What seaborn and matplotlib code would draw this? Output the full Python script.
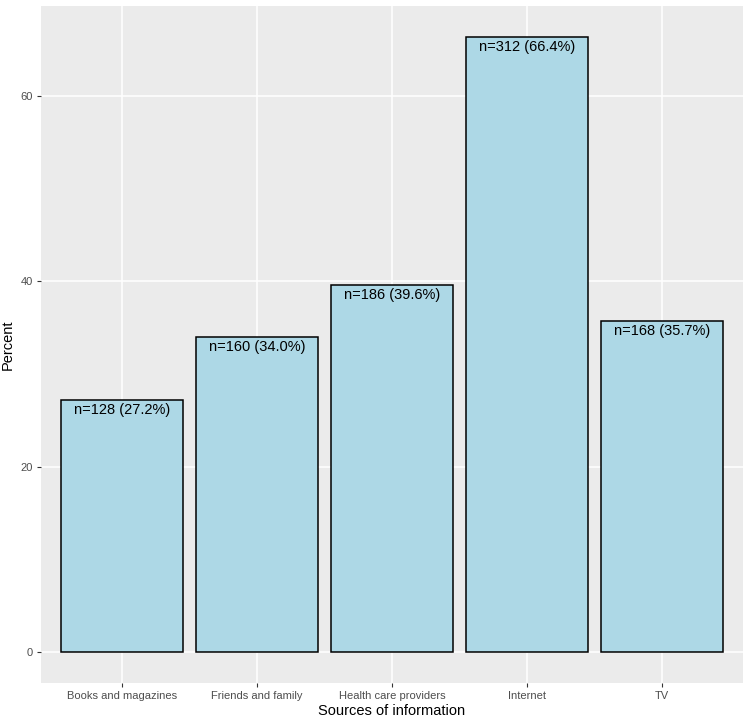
import matplotlib
matplotlib.use("Agg")
import matplotlib.pyplot as plt
import seaborn as sns
import pandas as pd

categories = ["Books and magazines", "Friends and family", "Health care providers", "Internet", "TV"]
percents = [27.2, 34.0, 39.6, 66.4, 35.7]
counts = [128, 160, 186, 312, 168]

df = pd.DataFrame({"source": categories, "percent": percents, "n": counts})

sns.set_theme(style="darkgrid")
plt.rcParams["font.family"] = ["Liberation Sans", "DejaVu Sans"]

fig = plt.figure(figsize=(7.5, 7.23), dpi=100)
ax = fig.add_axes([41/750, 40/723, 702/750, 677/723])
ax.set_facecolor("#EBEBEB")

sns.barplot(data=df, x="source", y="percent", color="#ADD8E6", edgecolor="black",
            linewidth=1.1, width=0.9, saturation=1, ax=ax, zorder=3)

for i, (p, n) in enumerate(zip(percents, counts)):
    ax.annotate(f"n={n} ({p:.1f}%)", xy=(i, p), xytext=(0, -2), textcoords="offset points",
                ha="center", va="top", fontsize=10.5, color="black", zorder=4)

ymax = max(percents)
ax.set_ylim(-0.05 * ymax, ymax * 1.05)
ax.set_xlim(-0.6, len(categories) - 0.4)
ax.set_yticks([0, 20, 40, 60])
ax.grid(True, color="white", linewidth=1.1, zorder=0)
ax.set_axisbelow(True)
for s in ax.spines.values():
    s.set_visible(False)
ax.tick_params(axis="both", which="major", length=3, width=0.8, color="#333333",
               labelsize=8, labelcolor="#4D4D4D", pad=3, bottom=True, left=True)
ax.set_xlabel("Sources of information", fontsize=10.5, color="black", labelpad=2)
ax.set_ylabel("Percent", fontsize=10.5, color="black", labelpad=4)

fig.savefig("out.png", dpi=100, facecolor="white")
